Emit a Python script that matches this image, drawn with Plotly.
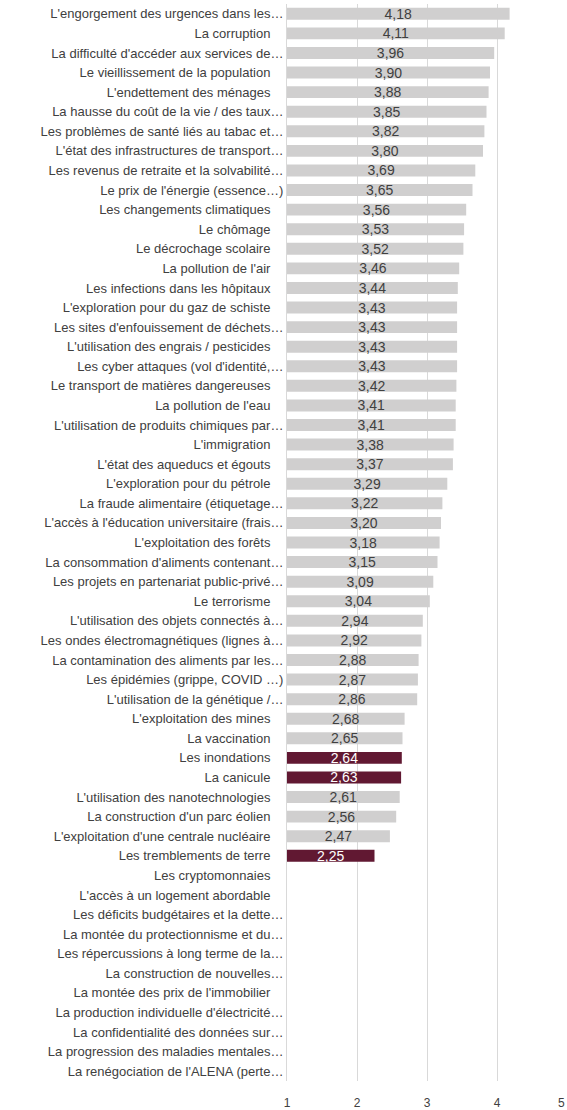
import plotly.graph_objects as go

# Enjeux, classés par score moyen (échelle 1 à 5)
categories = [
    "L'engorgement des urgences dans les…",
    "La corruption",
    "La difficulté d'accéder aux services de…",
    "Le vieillissement de la population",
    "L'endettement des ménages",
    "La hausse du coût de la vie / des taux…",
    "Les problèmes de santé liés au tabac et…",
    "L'état des infrastructures de transport…",
    "Les revenus de retraite et la solvabilité…",
    "Le prix de l'énergie (essence…)",
    "Les changements climatiques",
    "Le chômage",
    "Le décrochage scolaire",
    "La pollution de l'air",
    "Les infections dans les hôpitaux",
    "L'exploration pour du gaz de schiste",
    "Les sites d'enfouissement de déchets…",
    "L'utilisation des engrais / pesticides",
    "Les cyber attaques (vol d'identité,…",
    "Le transport de matières dangereuses",
    "La pollution de l'eau",
    "L'utilisation de produits chimiques par…",
    "L'immigration",
    "L'état des aqueducs et égouts",
    "L'exploration pour du pétrole",
    "La fraude alimentaire (étiquetage…",
    "L'accès à l'éducation universitaire (frais…",
    "L'exploitation des forêts",
    "La consommation d'aliments contenant…",
    "Les projets en partenariat public-privé…",
    "Le terrorisme",
    "L'utilisation des objets connectés à…",
    "Les ondes électromagnétiques (lignes à…",
    "La contamination des aliments par les…",
    "Les épidémies (grippe, COVID …)",
    "L'utilisation de la génétique /…",
    "L'exploitation des mines",
    "La vaccination",
    "Les inondations",
    "La canicule",
    "L'utilisation des nanotechnologies",
    "La construction d'un parc éolien",
    "L'exploitation d'une centrale nucléaire",
    "Les tremblements de terre",
    "Les cryptomonnaies",
    "L'accès à un logement abordable",
    "Les déficits budgétaires et la dette…",
    "La montée du protectionnisme et du…",
    "Les répercussions à long terme de la…",
    "La construction de nouvelles…",
    "La montée des prix de l'immobilier",
    "La production individuelle d'électricité…",
    "La confidentialité des données sur…",
    "La progression des maladies mentales…",
    "La renégociation de l'ALENA (perte…",
]

scores = [
    4.18, 4.11, 3.96, 3.90, 3.88, 3.85, 3.82, 3.80, 3.69, 3.65,
    3.56, 3.53, 3.52, 3.46, 3.44, 3.43, 3.43, 3.43, 3.43, 3.42,
    3.41, 3.41, 3.38, 3.37, 3.29, 3.22, 3.20, 3.18, 3.15, 3.09,
    3.04, 2.94, 2.92, 2.88, 2.87, 2.86, 2.68, 2.65, 2.64, 2.63,
    2.61, 2.56, 2.47, 2.25,
    None, None, None, None, None, None, None, None, None, None, None,
]

highlighted = ["Les inondations", "La canicule", "Les tremblements de terre"]

x_ticks = [1, 2, 3, 4]
x_last = 5
axis_start = 1

GREY = "#D0CFCF"
WINE = "#611832"
TEXT = "#404040"

bar_colors = [WINE if c in highlighted else GREY for c in categories]
text_colors = ["#FFFFFF" if c in highlighted else TEXT for c in categories]
bar_len = [None if v is None else v - axis_start for v in scores]
bar_text = ["" if v is None else f"{v:.2f}".replace(".", ",") for v in scores]

# labels that are not cut off carry a little trailing room
tick_text = [c if c.endswith("…") or c.endswith(")") else c + "\u2002\u2002" for c in categories]

fig = go.Figure(
    go.Bar(
        y=categories,
        x=bar_len,
        base=axis_start,
        orientation="h",
        marker=dict(color=bar_colors, line=dict(width=0)),
        text=bar_text,
        textposition="inside",
        insidetextanchor="middle",
        constraintext="none",
        textangle=0,
        textfont=dict(family="Liberation Sans", size=14, color=text_colors),
        hoverinfo="skip",
    )
)

fig.update_layout(
    width=567,
    height=1110,
    margin=dict(l=287, r=0, t=4, b=26),
    paper_bgcolor="white",
    plot_bgcolor="white",
    bargap=0.39,
    showlegend=False,
    font=dict(family="Liberation Sans", size=13, color=TEXT),
)

fig.update_xaxes(
    range=[1, 5],
    tickvals=x_ticks,
    ticktext=[str(t) for t in x_ticks],
    showgrid=True,
    gridcolor="#D9D9D9",
    gridwidth=1,
    zeroline=False,
    showline=False,
    ticks="",
    ticklabelstandoff=13,
    tickfont=dict(family="Liberation Sans", size=12, color=TEXT),
)

# last tick label, tucked against the right edge of the page
fig.add_annotation(
    x=x_last, xref="x", y=0, yref="paper",
    yanchor="top", yshift=-13, xanchor="right",
    text=str(x_last), showarrow=False,
    font=dict(family="Liberation Sans", size=12, color=TEXT),
)

fig.update_yaxes(
    autorange="reversed",
    tickvals=categories,
    ticktext=tick_text,
    showgrid=False,
    showline=True,
    linecolor="#D9D9D9",
    linewidth=1,
    ticks="",
    tickfont=dict(family="Liberation Sans", size=13, color=TEXT),
)

fig.write_html("out.html")
